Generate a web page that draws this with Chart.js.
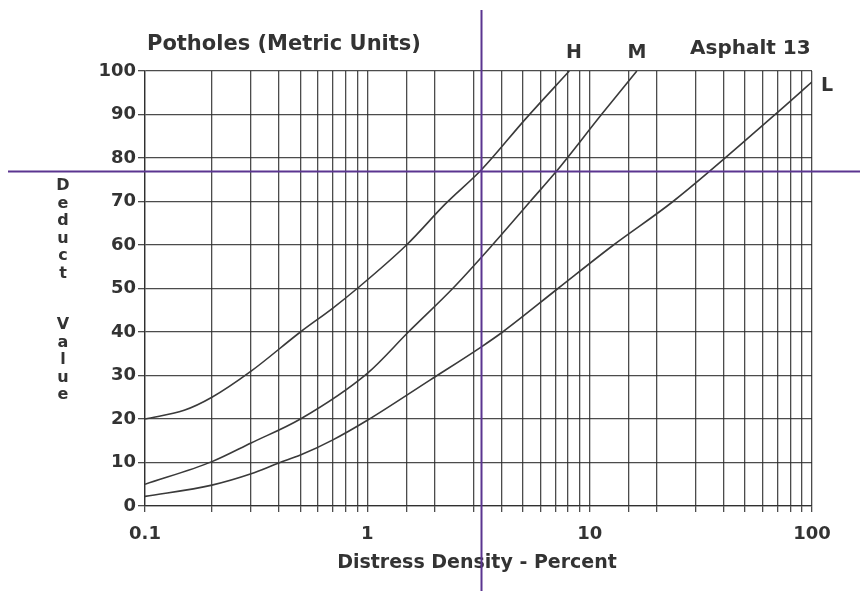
<!DOCTYPE html>
<html>
<head>
<meta charset="utf-8">
<title>Potholes (Metric Units) - Asphalt 13</title>
<script src="https://cdn.jsdelivr.net/npm/chart.js@4.4.1/dist/chart.umd.min.js"></script>
<style>
  html, body { margin: 0; padding: 0; background: #fff; }
  #wrap { width: 860px; height: 591px; }
</style>
</head>
<body>
<div id="wrap"><canvas id="myChart" width="860" height="591"></canvas></div>
<script>
// curve values (density %, deduct value)
const highDensity = [0.1, 0.15, 0.2, 0.3, 0.5, 0.7, 0.9, 1.5, 2.25, 3.26, 5.15, 8.1];
const highDeduct  = [20, 22, 25, 31, 40, 45.5, 50, 60, 69.5, 77.3, 89, 100];

const medDensity = [0.1, 0.2, 0.3, 0.5, 1, 1.53, 2.42, 3.65, 5.4, 7.1, 11.3, 16.3];
const medDeduct  = [5, 10.2, 14.5, 20, 30.5, 40, 50, 60, 70, 77, 90, 100];

const lowDensity = [0.1, 0.2, 0.3, 0.4, 0.5, 0.7, 1, 1.92, 3.26, 4.06, 7.2, 12.8, 23.7, 70, 100];
const lowDeduct  = [2.2, 4.8, 7.4, 9.9, 11.7, 15.2, 19.7, 29, 36.6, 40, 50, 60, 70, 90.5, 97.5];

const xTickLabels = [0.1, 1, 10, 100];
const yTickLabels = [0, 10, 20, 30, 40, 50, 60, 70, 80, 90, 100];

// purple read-off cross
const crossDensity = 3.26;
const crossDeduct = 77;

const ink = '#333';
const gridInk = 'rgba(45,45,45,0.85)';
const purple = '#5b3590';
const font = 'DejaVu Sans';

function toPoints(xs, ys) {
  return xs.map((x, i) => ({ x: x, y: ys[i] }));
}

const textPlugin = {
  id: 'textPlugin',
  afterDraw(chart) {
    const ctx = chart.ctx;
    const xs = chart.scales.x;
    const ys = chart.scales.y;
    ctx.save();
    ctx.fillStyle = ink;
    ctx.textBaseline = 'alphabetic';

    ctx.font = 'bold 21px ' + font;
    ctx.textAlign = 'left';
    ctx.fillText('Potholes (Metric Units)', 147, 50);

    ctx.font = 'bold 20px ' + font;
    ctx.fillText('Asphalt 13', 690, 54);

    ctx.font = 'bold 19px ' + font;
    ctx.textAlign = 'center';
    ctx.fillText('H', 574, 58);
    ctx.fillText('M', 637, 58);
    ctx.fillText('L', 827, 91);

    ctx.fillText('Distress Density - Percent', 477, 568);

    // stacked y title
    ctx.font = 'bold 16px ' + font;
    const word1 = 'Deduct'.split('');
    const word2 = 'Value'.split('');
    word1.forEach((c, i) => ctx.fillText(c, 63, 190 + i * 17.5));
    word2.forEach((c, i) => ctx.fillText(c, 63, 329 + i * 17.5));

    // crosshair
    ctx.strokeStyle = purple;
    ctx.lineWidth = 2;
    const px = Math.round(xs.getPixelForValue(crossDensity)) + 0.5;
    const py = Math.round(ys.getPixelForValue(crossDeduct)) + 0.5;
    ctx.beginPath();
    ctx.moveTo(px, 10);
    ctx.lineTo(px, 591);
    ctx.moveTo(8, py);
    ctx.lineTo(860, py);
    ctx.stroke();
    ctx.restore();
  }
};

const lineStyle = {
  borderColor: '#3a3a3a',
  borderWidth: 1.6,
  pointRadius: 0,
  fill: false,
  cubicInterpolationMode: 'monotone'
};

const ctx = document.getElementById('myChart');

new Chart(ctx, {
  type: 'line',
  data: {
    datasets: [
      Object.assign({ label: 'H', data: toPoints(highDensity, highDeduct) }, lineStyle),
      Object.assign({ label: 'M', data: toPoints(medDensity, medDeduct) }, lineStyle),
      Object.assign({ label: 'L', data: toPoints(lowDensity, lowDeduct) }, lineStyle)
    ]
  },
  options: {
    responsive: false,
    animation: false,
    layout: { padding: { left: 0, top: 71, right: 48, bottom: 0 } },
    plugins: {
      legend: { display: false },
      tooltip: { enabled: false }
    },
    scales: {
      x: {
        type: 'logarithmic',
        min: 0.1,
        max: 100,
        afterFit: (s) => { s.height = 85; },
        grid: { color: gridInk, lineWidth: 1.3, tickLength: 6 },
        border: { color: gridInk, width: 1.3 },
        ticks: {
          autoSkip: false,
          maxRotation: 0,
          color: ink,
          padding: 12,
          font: { family: font, weight: 'bold', size: 18 },
          callback: (v) => {
            const hit = xTickLabels.find(t => Math.abs(Math.log10(t) - Math.log10(v)) < 1e-6);
            return hit !== undefined ? String(hit) : '';
          }
        }
      },
      y: {
        min: 0,
        max: 100,
        afterFit: (s) => { s.width = 145; },
        afterBuildTicks: (s) => { s.ticks = yTickLabels.map(v => ({ value: v })); },
        grid: { color: gridInk, lineWidth: 1.3, tickLength: 7 },
        border: { color: gridInk, width: 1.3 },
        ticks: {
          color: ink,
          padding: 2,
          font: { family: font, weight: 'bold', size: 18 }
        }
      }
    }
  },
  plugins: [textPlugin]
});
</script>
</body>
</html>
